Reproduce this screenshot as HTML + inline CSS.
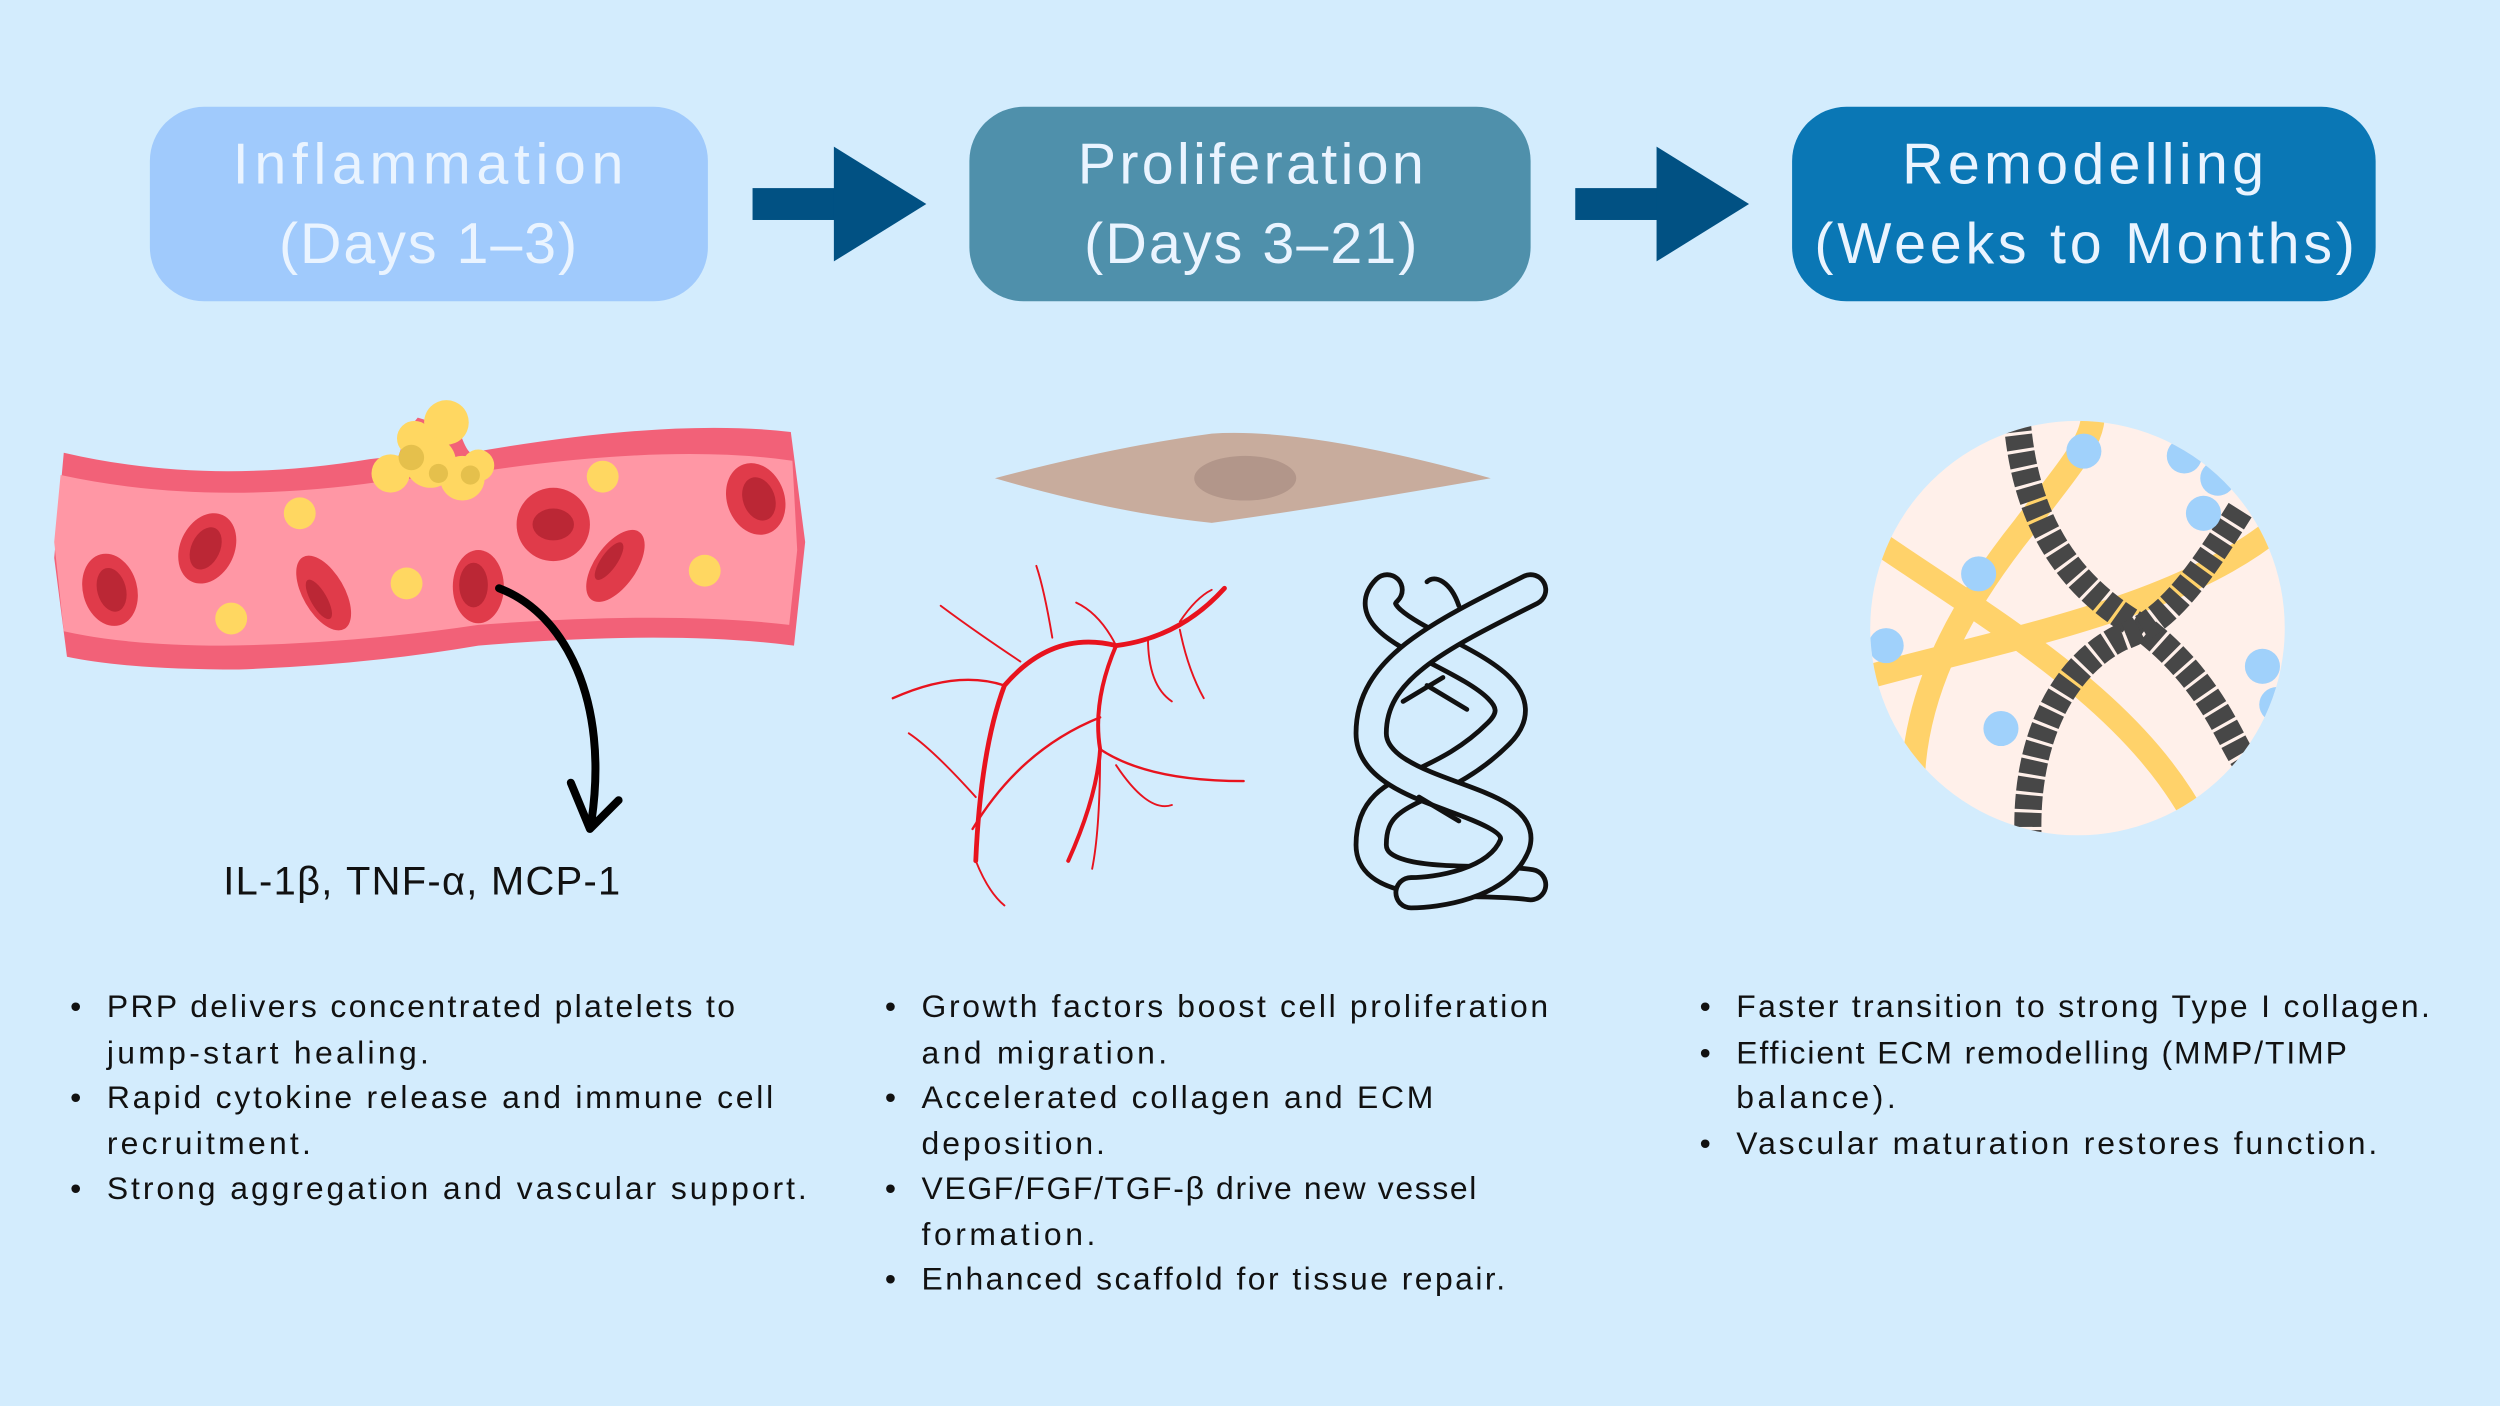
<!DOCTYPE html>
<html><head><meta charset="utf-8"><style>
html,body{margin:0;padding:0;background:#d3ecfd;}
svg{display:block}
text{font-family:"Liberation Sans",sans-serif;}
</style></head><body>
<svg width="2500" height="1406" viewBox="0 0 1568 882" preserveAspectRatio="none" xmlns="http://www.w3.org/2000/svg">
<rect width="1568" height="882" fill="#d3ecfd"/>
<!-- headers -->
<rect x="94" y="67" width="350" height="122" rx="34" fill="#a0cafc"/>
<text x="146" y="115" font-size="36" fill="#eaf4ff" textLength="245" lengthAdjust="spacing">Inflammation</text>
<text x="175" y="165" font-size="36" fill="#eaf4ff" textLength="187" lengthAdjust="spacing">(Days 1–3)</text>
<rect x="608" y="67" width="352" height="122" rx="34" fill="#4f90ab"/>
<text x="676" y="115" font-size="36" fill="#eaf4ff" textLength="217" lengthAdjust="spacing">Proliferation</text>
<text x="680" y="165" font-size="36" fill="#eaf4ff" textLength="209" lengthAdjust="spacing">(Days 3–21)</text>
<rect x="1124" y="67" width="366" height="122" rx="34" fill="#0a77b5"/>
<text x="1193" y="115" font-size="36" fill="#eaf4ff" textLength="227" lengthAdjust="spacing">Remodelling</text>
<text x="1138" y="165" font-size="36" fill="#eaf4ff" textLength="339" lengthAdjust="spacing">(Weeks to Months)</text>
<!-- arrows -->
<rect x="472" y="118" width="53" height="20" fill="#015183"/>
<polygon points="523,92 581,128 523,164" fill="#015183"/>
<rect x="988" y="118" width="53" height="20" fill="#015183"/>
<polygon points="1039,92 1097,128 1039,164" fill="#015183"/>
<!-- vessel -->
<path d="M40,284 Q130,305 232,288 L250,286 Q255,270 262,262 L288,270 Q292,282 295,284 Q420,262 496,271 L505,340 L498,405 Q420,395 300,405 Q230,417 150,420 Q80,420 42,412 L34,350 Z" fill="#f26178"/>
<path d="M38,298 Q130,318 240,302 L300,296 Q420,278 497,289 L500,345 L495,392 Q420,383 300,392 Q220,404 140,405 Q80,405 40,396 L34,340 Z" fill="#ff97a5"/>
<g fill="#ffd761">
<circle cx="280" cy="265" r="14"/><circle cx="270" cy="290" r="16"/><circle cx="290" cy="300" r="14"/><circle cx="245" cy="297" r="12"/><circle cx="300" cy="292" r="10"/><circle cx="260" cy="275" r="11"/>
</g>
<g fill="#e5c04c"><circle cx="258" cy="287" r="8"/><circle cx="275" cy="297" r="6"/><circle cx="295" cy="298" r="6"/></g>
<g fill="#ffd761">
<circle cx="188" cy="322" r="10"/><circle cx="145" cy="388" r="10"/><circle cx="255" cy="366" r="10"/><circle cx="378" cy="299" r="10"/><circle cx="442" cy="358" r="10"/>
</g>
<g>
<ellipse cx="69" cy="370" rx="17" ry="23" fill="#e03b4a" transform="rotate(-15 69 370)"/><ellipse cx="70" cy="370" rx="9" ry="14" fill="#bb2735" transform="rotate(-15 70 370)"/>
<ellipse cx="130" cy="344" rx="17" ry="23" fill="#e03b4a" transform="rotate(25 130 344)"/><ellipse cx="129" cy="344" rx="9" ry="14" fill="#bb2735" transform="rotate(25 129 344)"/>
<ellipse cx="203" cy="372" rx="13" ry="26" fill="#e03b4a" transform="rotate(-30 203 372)"/><ellipse cx="200" cy="376" rx="5" ry="14" fill="#bb2735" transform="rotate(-30 200 376)"/>
<ellipse cx="300" cy="368" rx="16" ry="23" fill="#e03b4a"/><ellipse cx="297" cy="367" rx="9" ry="14" fill="#bb2735"/>
<circle cx="347" cy="329" r="23" fill="#e03b4a"/><ellipse cx="347" cy="329" rx="13" ry="10" fill="#bb2735"/>
<ellipse cx="386" cy="355" rx="13" ry="26" fill="#e03b4a" transform="rotate(35 386 355)"/><ellipse cx="382" cy="352" rx="5" ry="14" fill="#bb2735" transform="rotate(35 382 352)"/>
<ellipse cx="474" cy="313" rx="18" ry="23" fill="#e03b4a" transform="rotate(-20 474 313)"/><ellipse cx="476" cy="313" rx="10" ry="14" fill="#bb2735" transform="rotate(-20 476 313)"/>
</g>
<path d="M313,369 C355,385 382,440 371,515" stroke="#000" stroke-width="5" fill="none" stroke-linecap="round"/>
<path d="M358,491 L370,520 L388,502" stroke="#000" stroke-width="5" fill="none" stroke-linecap="round" stroke-linejoin="round"/>
<text x="140" y="561" font-size="25" fill="#111" textLength="249" lengthAdjust="spacing">IL-1β, TNF-α, MCP-1</text>
<!-- fibroblast -->
<path d="M624,300 Q700,280 760,272 Q820,268 935,300 Q820,320 760,328 Q700,322 624,300 Z" fill="#c8ac9d"/>
<ellipse cx="781" cy="300" rx="32" ry="14" fill="#b2968a"/>
<g stroke="#e8131e" fill="none" stroke-linecap="round">
<path d="M768,369 Q740,400 700,405 Q660,395 630,430 Q615,470 612,540" stroke-width="3"/>
<path d="M700,405 Q685,440 690,470 Q688,500 670,540" stroke-width="2.5"/>
<path d="M690,470 Q720,490 780,490" stroke-width="1.5"/>
<path d="M690,450 Q640,470 610,520" stroke-width="1.5"/>
<path d="M630,430 Q600,420 560,438" stroke-width="1.5"/>
<path d="M640,415 Q610,395 590,380" stroke-width="1.2"/>
<path d="M660,400 Q655,370 650,355" stroke-width="1.2"/>
<path d="M740,395 Q745,420 755,438" stroke-width="1.2"/>
<path d="M720,400 Q720,430 735,440" stroke-width="1.2"/>
<path d="M700,405 Q690,385 675,378" stroke-width="1.2"/>
<path d="M740,390 Q750,375 760,370" stroke-width="1.2"/>
<path d="M700,480 Q720,510 735,505" stroke-width="1.2"/>
<path d="M612,500 Q585,470 570,460" stroke-width="1.2"/>
<path d="M612,540 Q620,560 630,568" stroke-width="1.2"/>
<path d="M690,470 Q690,520 685,545" stroke-width="1.2"/>
</g>
<g fill="none" stroke-linecap="round">
<path d="M870,370 C840,400 980,420 940,460 C900,500 860,490 860,530 C860,560 930,550 960,555" stroke="#111" stroke-width="22"/>
<path d="M870,370 C840,400 980,420 940,460 C900,500 860,490 860,530 C860,560 930,550 960,555" stroke="#d3ecfd" stroke-width="16"/>
<path d="M960,370 C900,400 860,420 860,460 C860,500 960,500 950,530 C940,555 900,560 885,560" stroke="#111" stroke-width="22"/>
<path d="M960,370 C900,400 860,420 860,460 C860,500 960,500 950,530 C940,555 900,560 885,560" stroke="#d3ecfd" stroke-width="16"/>
<path d="M895,365 C900,360 910,365 915,380" stroke="#111" stroke-width="3"/>
<path d="M880,440 L905,425 M890,500 L915,515 M895,430 L920,445" stroke="#111" stroke-width="3"/>
</g>
<defs><clipPath id="cc"><circle cx="1303" cy="394" r="130"/></clipPath></defs>
<circle cx="1303" cy="394" r="130" fill="#fff0ea"/>
<g clip-path="url(#cc)" fill="none" stroke-linecap="butt">
<path d="M1200,510 C1195,440 1230,380 1270,330 C1300,290 1320,270 1310,250" stroke="#ffd26a" stroke-width="15"/>
<path d="M1170,335 C1250,390 1340,440 1380,520" stroke="#ffd26a" stroke-width="15"/>
<path d="M1170,425 C1260,400 1380,380 1440,320" stroke="#ffd26a" stroke-width="15"/>
<path d="M1265,262 C1270,330 1300,370 1345,395 C1390,430 1400,470 1410,480" stroke="#474747" stroke-width="17" stroke-dasharray="9 2"/>
<path d="M1405,320 C1380,360 1360,390 1330,400 C1290,420 1270,470 1272,525" stroke="#474747" stroke-width="17" stroke-dasharray="9 2"/>
</g>
<g fill="#a0d1fb" clip-path="url(#cc)">
<circle cx="1307" cy="283" r="11"/><circle cx="1370" cy="286" r="11"/><circle cx="1391" cy="300" r="11"/><circle cx="1382" cy="322" r="11"/><circle cx="1241" cy="360" r="11"/><circle cx="1183" cy="405" r="11"/><circle cx="1255" cy="457" r="11"/><circle cx="1419" cy="418" r="11"/><circle cx="1428" cy="442" r="11"/>
</g>
<g font-size="20" fill="#111">
<text x="44" y="638">•</text><text x="67" y="638" textLength="394" lengthAdjust="spacing">PRP delivers concentrated platelets to</text>
<text x="67" y="667" textLength="202" lengthAdjust="spacing">jump-start healing.</text>
<text x="44" y="695">•</text><text x="67" y="695" textLength="418" lengthAdjust="spacing">Rapid cytokine release and immune cell</text>
<text x="67" y="724" textLength="128" lengthAdjust="spacing">recruitment.</text>
<text x="44" y="752">•</text><text x="67" y="752" textLength="439" lengthAdjust="spacing">Strong aggregation and vascular support.</text>

<text x="555" y="638">•</text><text x="578" y="638" textLength="393" lengthAdjust="spacing">Growth factors boost cell proliferation</text>
<text x="578" y="667" textLength="154" lengthAdjust="spacing">and migration.</text>
<text x="555" y="695">•</text><text x="578" y="695" textLength="321" lengthAdjust="spacing">Accelerated collagen and ECM</text>
<text x="578" y="724" textLength="115" lengthAdjust="spacing">deposition.</text>
<text x="555" y="752">•</text><text x="578" y="752" textLength="348" lengthAdjust="spacing">VEGF/FGF/TGF-β drive new vessel</text>
<text x="578" y="781" textLength="109" lengthAdjust="spacing">formation.</text>
<text x="555" y="809">•</text><text x="578" y="809" textLength="366" lengthAdjust="spacing">Enhanced scaffold for tissue repair.</text>

<text x="1066" y="638">•</text><text x="1089" y="638" textLength="435" lengthAdjust="spacing">Faster transition to strong Type I collagen.</text>
<text x="1066" y="667">•</text><text x="1089" y="667" textLength="383" lengthAdjust="spacing">Efficient ECM remodelling (MMP/TIMP</text>
<text x="1089" y="695" textLength="100" lengthAdjust="spacing">balance).</text>
<text x="1066" y="724">•</text><text x="1089" y="724" textLength="402" lengthAdjust="spacing">Vascular maturation restores function.</text>
</g>
</svg>
</body></html>
